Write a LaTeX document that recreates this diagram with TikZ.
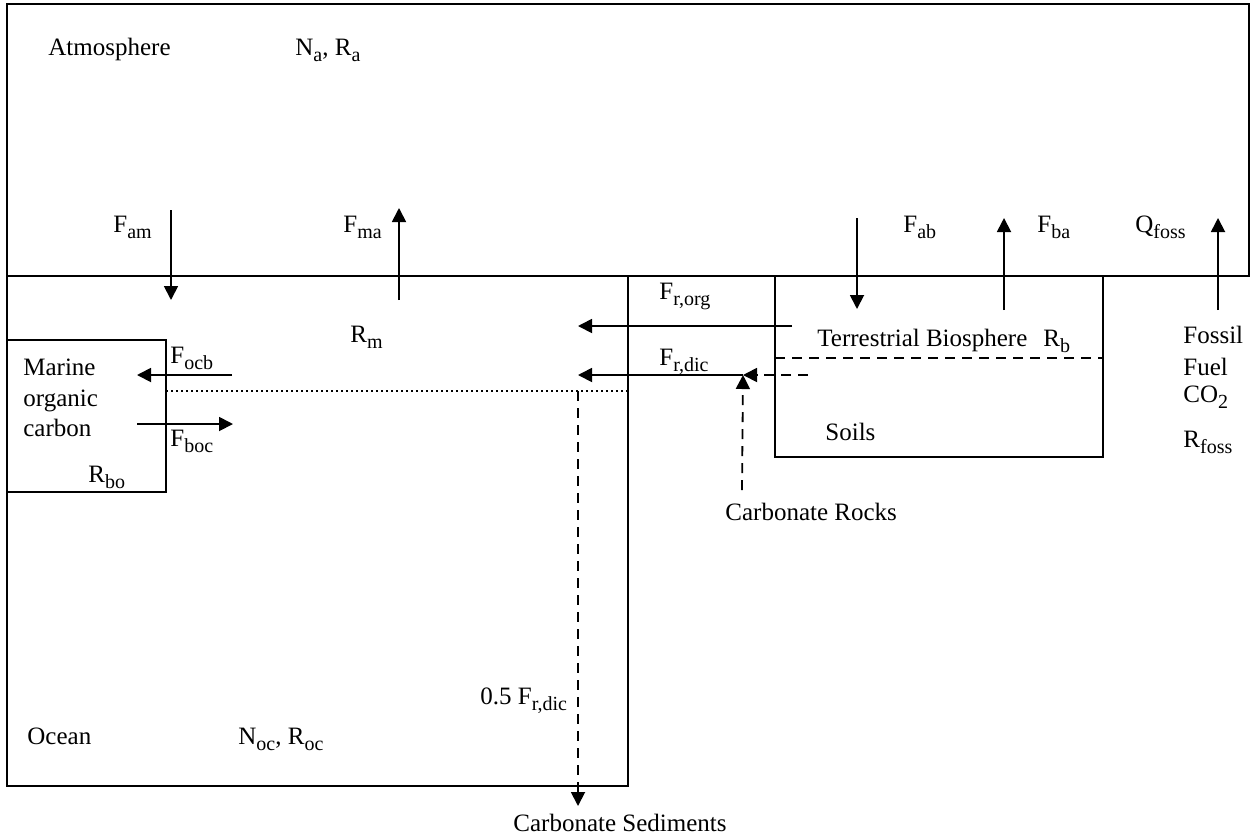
\documentclass[tikz,border=0pt]{standalone}
\usepackage{fontspec}
\setmainfont{Liberation Serif}
\usetikzlibrary{arrows.meta}
\newcommand{\sbs}[1]{\raisebox{-3pt}{\fontsize{10}{10}\selectfont #1}}

\begin{document}
\begin{tikzpicture}[x=0.5pt, y=-0.5pt, >={Triangle[length=7pt,width=7pt]},
  box/.style={line width=0.9pt},
  flux/.style={line width=0.9pt, ->},
  dflux/.style={line width=0.9pt, dash pattern=on 5pt off 3.5pt},
  lbl/.style={anchor=base west, inner sep=0pt, font=\fontsize{12.5}{15}\selectfont}]

  \useasboundingbox (0,0) rectangle (1256,836);

  % Reservoirs
  \draw[box] (7,4) rectangle (1249,276);
  \draw[box] (7,276) rectangle (628,786);
  \draw[box] (775,276) rectangle (1103,457);
  \draw[box] (7,340) rectangle (166,492);

  % Biosphere / soils split and marine layer
  \draw[dflux] (775,358) -- (1103,358);
  \draw[line width=0.9pt, dash pattern=on 1.2pt off 1.3pt] (166,391) -- (628,391);

  % Flux end points
  \coordinate (am0) at (171,210);  \coordinate (am1) at (171,300);
  \coordinate (ma0) at (399,300);  \coordinate (ma1) at (399,208);
  \coordinate (ab0) at (857,218);  \coordinate (ab1) at (857,309);
  \coordinate (ba0) at (1004,310); \coordinate (ba1) at (1004,218);
  \coordinate (qf0) at (1218,310); \coordinate (qf1) at (1218,218);
  \coordinate (org0) at (792,326); \coordinate (org1) at (578,326);
  \coordinate (dic0) at (808,375); \coordinate (dicm) at (743,375);
  \coordinate (dic1) at (578,375);
  \coordinate (rock) at (742,490);
  \coordinate (sed0) at (578,391); \coordinate (sed1) at (578,806);
  \coordinate (ocb0) at (232,375); \coordinate (ocb1) at (137,375);
  \coordinate (boc0) at (137,424); \coordinate (boc1) at (233,424);

  % Atmosphere exchanges
  \draw[flux] (am0) -- (am1);
  \draw[flux] (ma0) -- (ma1);
  \draw[flux] (ab0) -- (ab1);
  \draw[flux] (ba0) -- (ba1);
  \draw[flux] (qf0) -- (qf1);

  % River fluxes
  \draw[flux] (org0) -- (org1);
  \draw[dflux, ->] (dic0) -- (dicm);
  \draw[flux] (dicm) -- (dic1);
  \draw[dflux, ->] (rock) -- (dicm);
  \draw[dflux, ->] (sed0) -- (sed1);

  % Marine organic carbon exchange
  \draw[flux] (ocb0) -- (ocb1);
  \draw[flux] (boc0) -- (boc1);

  % Labels
  \node[lbl] (atm) at (48,55) {Atmosphere};
  \node[lbl] (na) at (295,55) {N\sbs{a}, R\sbs{a}};
  \node[lbl] (fam) at (113,232) {F\sbs{am}};
  \node[lbl] (fma) at (343,232) {F\sbs{ma}};
  \node[lbl] (fab) at (903,232) {F\sbs{ab}};
  \node[lbl] (fba) at (1037,232) {F\sbs{ba}};
  \node[lbl] (qfoss) at (1135,232) {Q\sbs{foss}};
  \node[lbl] (rm) at (350,342) {R\sbs{m}};
  \node[lbl] (forg) at (659,299) {F\sbs{r,org}};
  \node[lbl] (fdic) at (659,365) {F\sbs{r,dic}};
  \node[lbl] (terr) at (817,346) {Terrestrial Biosphere};
  \node[lbl] (rb) at (1043,346) {R\sbs{b}};
  \node[lbl] (soils) at (825,440) {Soils};
  \node[lbl] (fos1) at (1183,343) {Fossil};
  \node[lbl] (fos2) at (1183,375) {Fuel};
  \node[lbl] (fos3) at (1183,402) {CO\sbs{2}};
  \node[lbl] (rfoss) at (1183,447) {R\sbs{foss}};
  \node[lbl] (mar1) at (23,375) {Marine};
  \node[lbl] (mar2) at (23,406) {organic};
  \node[lbl] (mar3) at (23,436) {carbon};
  \node[lbl] (rbo) at (88,482) {R\sbs{bo}};
  \node[lbl] (focb) at (170,363) {F\sbs{ocb}};
  \node[lbl] (fboc) at (170,446) {F\sbs{boc}};
  \node[lbl] (rocks) at (725,520) {Carbonate Rocks};
  \node[lbl] (half) at (480,704) {0.5 F\sbs{r,dic}};
  \node[lbl] (ocean) at (27,744) {Ocean};
  \node[lbl] (noc) at (238,744) {N\sbs{oc}, R\sbs{oc}};
  \node[lbl] (seds) at (513,831) {Carbonate Sediments};

\end{tikzpicture}
\end{document}
